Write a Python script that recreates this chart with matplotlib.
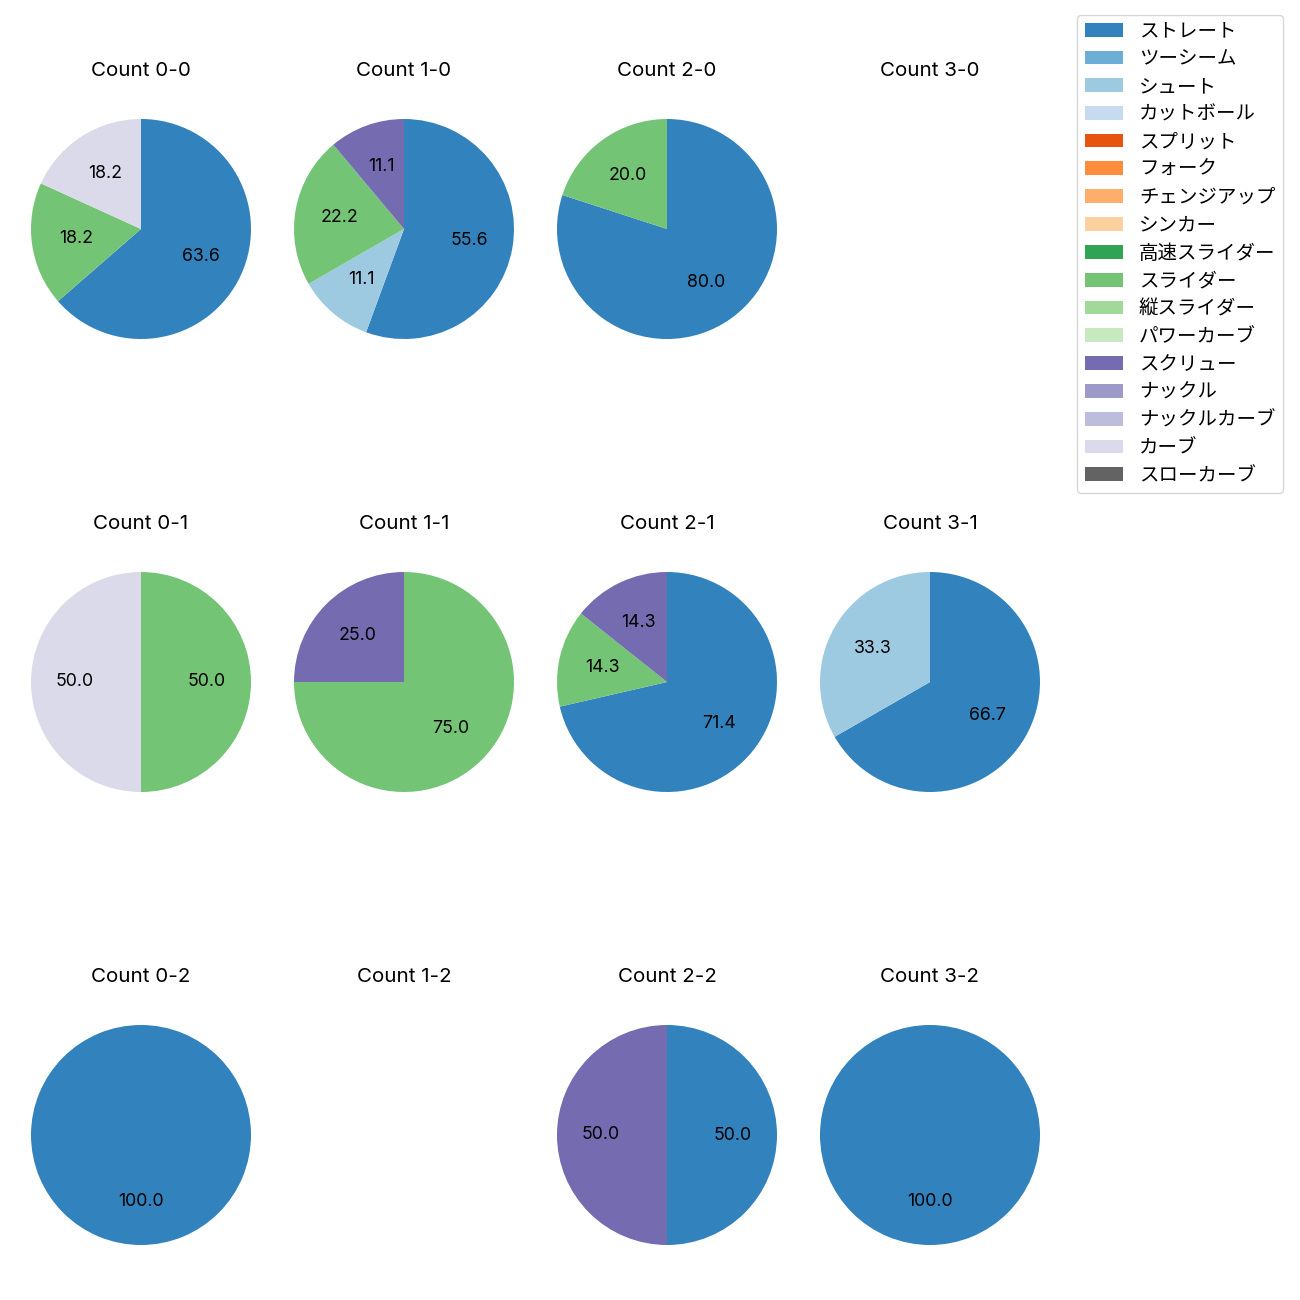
import matplotlib
matplotlib.use("Agg")
import matplotlib.pyplot as plt
from matplotlib.patches import Patch

plt.rcParams['font.family'] = ['Inter', 'Noto Sans CJK JP', 'DejaVu Sans']

pitch_types = ["ストレート", "ツーシーム", "シュート", "カットボール", "スプリット", "フォーク",
               "チェンジアップ", "シンカー", "高速スライダー", "スライダー", "縦スライダー",
               "パワーカーブ", "スクリュー", "ナックル", "ナックルカーブ", "カーブ", "スローカーブ"]

cmap = plt.get_cmap('tab20c')
colors = {p: cmap(i) for i, p in enumerate(pitch_types)}

counts = ["0-0", "1-0", "2-0", "3-0",
          "0-1", "1-1", "2-1", "3-1",
          "0-2", "1-2", "2-2", "3-2"]

pie_data = {
    "0-0": {"ストレート": 63.6, "スライダー": 18.2, "カーブ": 18.2},
    "1-0": {"ストレート": 55.6, "シュート": 11.1, "スライダー": 22.2, "スクリュー": 11.1},
    "2-0": {"ストレート": 80.0, "スライダー": 20.0},
    "3-0": {},
    "0-1": {"スライダー": 50.0, "カーブ": 50.0},
    "1-1": {"スライダー": 75.0, "スクリュー": 25.0},
    "2-1": {"ストレート": 71.4, "スライダー": 14.3, "スクリュー": 14.3},
    "3-1": {"ストレート": 66.7, "シュート": 33.3},
    "0-2": {"ストレート": 100.0},
    "1-2": {},
    "2-2": {"ストレート": 50.0, "スクリュー": 50.0},
    "3-2": {"ストレート": 100.0},
}

W = H = 1300
fig = plt.figure(figsize=(13, 13), dpi=100)

col_cx = [141, 404, 667, 930]
row_cy = [229, 682, 1135]
r_px = 110 * 1.25

for i, c in enumerate(counts):
    row, col = divmod(i, 4)
    cx, cy = col_cx[col], row_cy[row]
    ax = fig.add_axes([(cx - r_px) / W, 1 - (cy + r_px) / H, 2 * r_px / W, 2 * r_px / H])
    d = pie_data[c]
    if d:
        labels = list(d.keys())
        vals = list(d.values())
        ax.pie(vals, colors=[colors[l] for l in labels], startangle=90, counterclock=False,
               autopct='%.1f', textprops={'fontsize': 12.8})
    ax.set_xlim(-1.25, 1.25)
    ax.set_ylim(-1.25, 1.25)
    ax.set_aspect('equal')
    ax.axis('off')
    ax.set_title(f"Count {c}", fontsize=14.8, pad=11)

handles = [Patch(facecolor=colors[p], label=p) for p in pitch_types]
fig.legend(handles=handles, loc='upper right', bbox_to_anchor=(1293 / W, 1 - 5 / H),
           fontsize=14, frameon=True, labelspacing=0.5, handletextpad=0.8)

fig.savefig("out.png", dpi=100)
